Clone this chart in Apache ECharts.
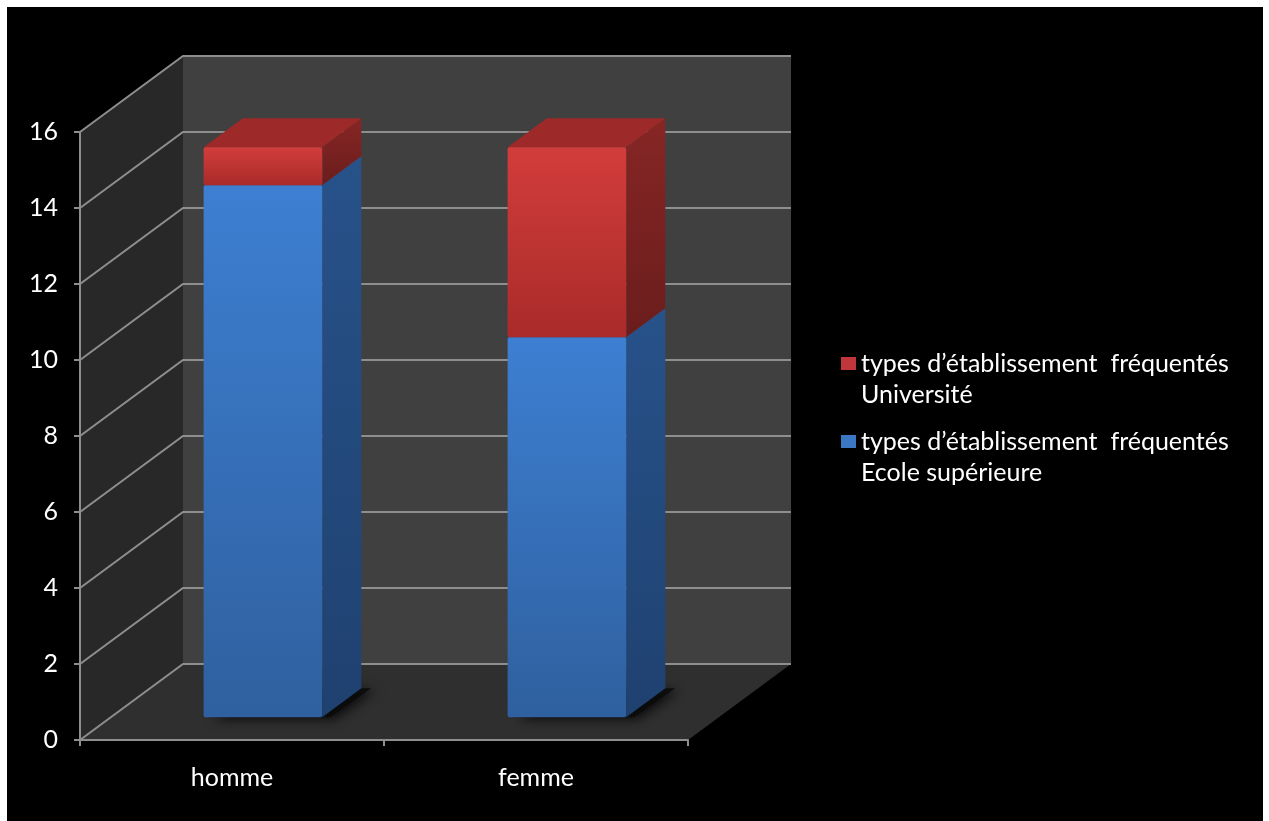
<!DOCTYPE html>
<html><head><meta charset="utf-8">
<script src="https://cdn.jsdelivr.net/npm/echarts@6/dist/echarts.min.js"></script>
<style>
html,body{margin:0;padding:0;background:#fff;width:1269px;height:821px;overflow:hidden}
#c{position:absolute;left:7px;top:7px;width:1256px;height:814px;background:#000}
</style></head><body><div id="c"></div>
<script>
// ---- data ----
const categories = ['homme', 'femme'];
const ecoleSuperieure = [14, 10];
const universite = [1, 5];
const yTicks = [0, 2, 4, 6, 8, 10, 12, 14, 16];
const nameEcole = 'types d’établissement  fréquentés\nEcole supérieure';
const nameUniv = 'types d’établissement  fréquentés\nUniversité';

// ---- projection (oblique 3D look) ----
const DX = 103, DY = -76;     // depth offset of the back wall, px
const F0 = 0.30, F1 = 0.68;   // bar front / back depth fraction
const BW = 0.39;              // bar width fraction of category
const FONT = 'Lato, "Open Sans", sans-serif';

const chart = echarts.init(document.getElementById('c'), null, {renderer: 'canvas'});

function renderWalls(params, api) {
  const size = api.size([1, 0])[0];
  const c0 = api.coord([0, yTicks[0]]);
  const xL = c0[0] - size / 2;
  const xR = api.coord([categories.length - 1, 0])[0] + size / 2;
  const y0 = c0[1];
  const yTop = api.coord([0, yTicks[yTicks.length - 1]])[1];
  const children = [
    {type: 'polygon', shape: {points: [[xL, y0], [xR, y0], [xR + DX, y0 + DY], [xL + DX, y0 + DY]]}, style: {fill: '#2f2f2f'}},
    {type: 'polygon', shape: {points: [[xL, y0], [xL, yTop], [xL + DX, yTop + DY], [xL + DX, y0 + DY]]}, style: {fill: '#282828'}},
    {type: 'polygon', shape: {points: [[xL + DX, yTop + DY], [xR + DX, yTop + DY], [xR + DX, y0 + DY], [xL + DX, y0 + DY]]}, style: {fill: '#404040'}}
  ];
  yTicks.forEach(function (t) {
    const y = api.coord([0, t])[1];
    children.push({type: 'polyline', shape: {points: [[xL, y], [xL + DX, y + DY], [xR + DX, y + DY]]},
      style: {stroke: '#8e8e8e', lineWidth: 2, fill: null}});
  });
  return {type: 'group', children: children};
}

function makeBarRenderer(pal) {
  return function (params, api) {
    const ci = api.value(0), v0 = api.value(1), v1 = api.value(2);
    const size = api.size([1, 0])[0];
    const cb = api.coord([ci, v0]), ct = api.coord([ci, v1]);
    const w = size * BW;
    const ox = DX * F0, oy = DY * F0;
    const dx = DX * (F1 - F0), dy = DY * (F1 - F0);
    const x1 = cb[0] - w / 2 + ox, x2 = cb[0] + w / 2 + ox;
    const yb = cb[1] + oy, yt = ct[1] + oy;
    const children = [];
    if (v0 === 0) {
      children.push({type: 'polygon', shape: {points: [[x1 + 6, yb], [x2 + 8, yb], [x2 + dx + 10, yb + dy], [x1 + dx, yb + dy]]},
        style: {fill: 'rgba(10,10,10,0.85)', shadowBlur: 12, shadowColor: 'rgba(0,0,0,0.9)', shadowOffsetX: 4, shadowOffsetY: 2}});
    }
    children.push({type: 'polygon', shape: {points: [[x2, yb], [x2, yt], [x2 + dx, yt + dy], [x2 + dx, yb + dy]]},
      style: {fill: new echarts.graphic.LinearGradient(0, 0, 0, 1, [{offset: 0, color: pal.side0}, {offset: 1, color: pal.side1}])}});
    children.push({type: 'polygon', shape: {points: [[x1, yt], [x2, yt], [x2 + dx, yt + dy], [x1 + dx, yt + dy]]},
      style: {fill: pal.top}});
    children.push({type: 'rect', shape: {x: x1, y: yt, width: w, height: yb - yt, r: 2},
      style: {fill: new echarts.graphic.LinearGradient(0, 0, 0, 1, [{offset: 0, color: pal.front0}, {offset: 1, color: pal.front1}])}});
    return {type: 'group', children: children};
  };
}

const blue = {front0: '#3d7fd2', front1: '#2f609f', side0: '#27528a', side1: '#1f4170', top: '#3468ad'};
const red = {front0: '#d23d3b', front1: '#a92b2a', side0: '#862625', side1: '#6a1d1c', top: '#9d2a29'};

const ecoleData = categories.map(function (c, i) { return [i, 0, ecoleSuperieure[i]]; });
const univData = categories.map(function (c, i) { return [i, ecoleSuperieure[i], ecoleSuperieure[i] + universite[i]]; });

const legendText = {color: '#fff', fontFamily: FONT, fontSize: 25, lineHeight: 31};
// an empty leading line keeps the icon level with the first text line
function legendFmt(name) { return '\n' + name; }

chart.setOption({
  backgroundColor: '#000',
  animation: false,
  grid: {left: 73, top: 125, width: 608, height: 608},
  xAxis: {
    type: 'category', data: categories, boundaryGap: true,
    axisLine: {show: true, lineStyle: {color: '#8e8e8e', width: 2}},
    axisTick: {show: true, length: 6, lineStyle: {color: '#8e8e8e', width: 2}},
    axisLabel: {color: '#fff', fontFamily: FONT, fontSize: 25, margin: 25},
    splitLine: {show: false}, z: 10
  },
  yAxis: {
    type: 'value', min: 0, max: 16, interval: 2,
    axisLine: {show: true, lineStyle: {color: '#8e8e8e', width: 2}},
    axisTick: {show: true, length: 6, lineStyle: {color: '#8e8e8e', width: 2}},
    axisLabel: {color: '#fff', fontFamily: FONT, fontSize: 25, margin: 22},
    splitLine: {show: false}, z: 10
  },
  legend: [
    {data: [nameUniv], orient: 'vertical', left: 834, top: 310, padding: 0, itemWidth: 15, itemHeight: 13,
      icon: 'rect', textStyle: legendText, formatter: legendFmt, selectedMode: false},
    {data: [nameEcole], orient: 'vertical', left: 834, top: 388, padding: 0, itemWidth: 15, itemHeight: 13,
      icon: 'rect', textStyle: legendText, formatter: legendFmt, selectedMode: false}
  ],
  series: [
    {type: 'custom', name: 'walls', renderItem: renderWalls, data: [[0]], z: 1, silent: true},
    {type: 'custom', name: nameEcole, renderItem: makeBarRenderer(blue), data: ecoleData, encode: {x: 0, y: 2},
      itemStyle: {color: '#3a78c6'}, z: 3},
    {type: 'custom', name: nameUniv, renderItem: makeBarRenderer(red), data: univData, encode: {x: 0, y: 2},
      itemStyle: {color: '#c0363a'}, z: 4}
  ]
});
</script></body></html>
